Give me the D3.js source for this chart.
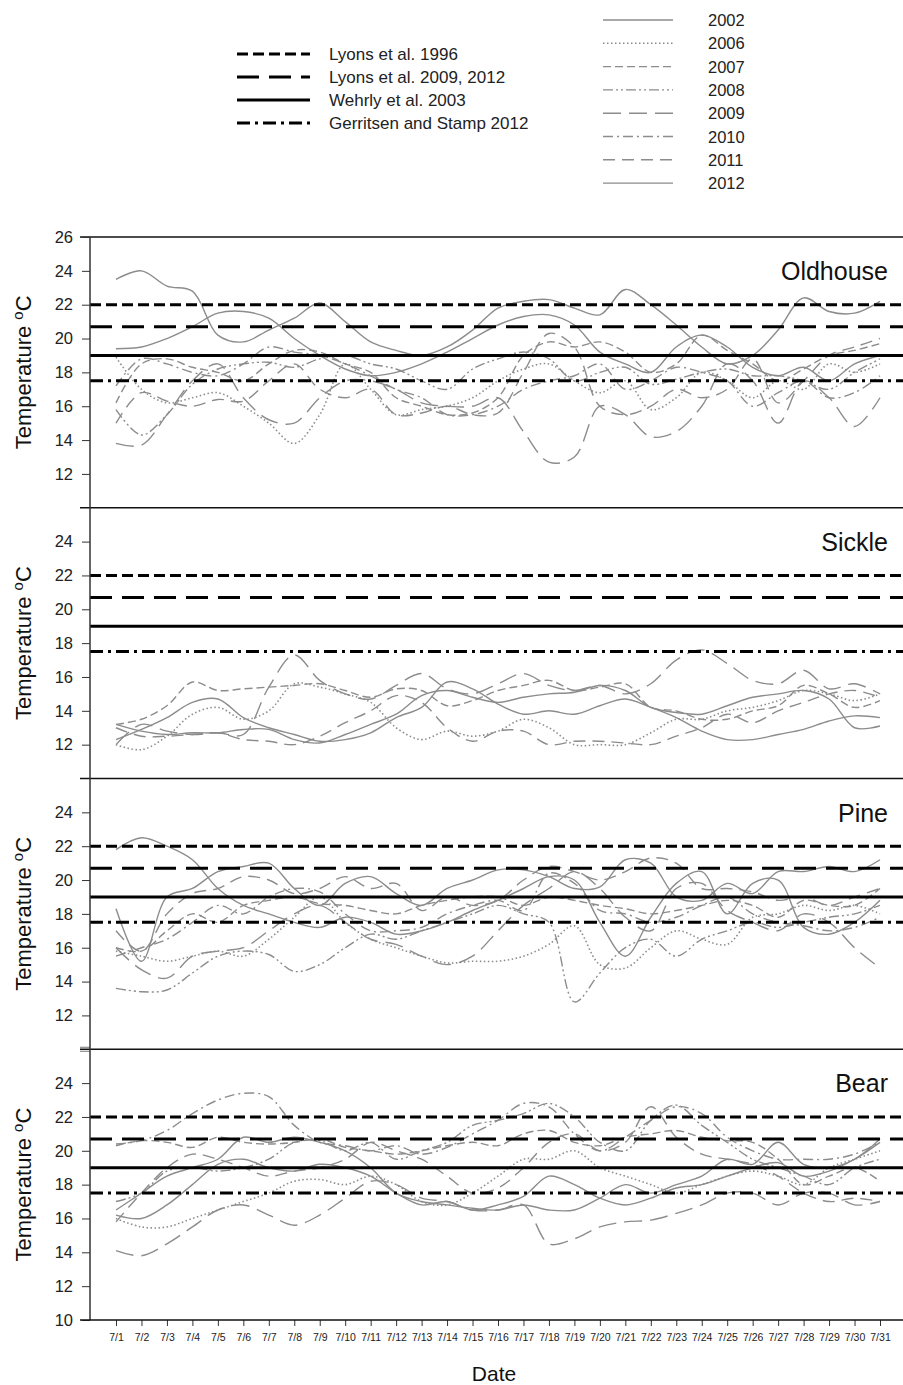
<!DOCTYPE html>
<html>
<head>
<meta charset="utf-8">
<script src="https://cdn.jsdelivr.net/npm/d3@7"></script>
<style>
  body { margin: 0; background: #fff; }
  svg { font-family: "Liberation Sans", Arial, sans-serif; }
</style>
</head>
<body>
<div id="chart"></div>
<script>
const W = 903, H = 1385;

// day-of-month labels on the x axis
const days = d3.range(1, 32);
const dayLabels = days.map(d => "7/" + d);

const sites = ["Oldhouse", "Sickle", "Pine", "Bear"];
const years = ["2002", "2006", "2007", "2008", "2009", "2010", "2011", "2012"];

// criteria lines (temperature, degC)
const criteria = ["Lyons et al. 1996", "Lyons et al. 2009, 2012", "Wehrly et al. 2003", "Gerritsen and Stamp 2012"];
const criteriaValues = [22, 20.7, 19, 17.5];

// daily temperature per site, per year
const oldhouse = {
  "2002": [23.5,24.0,23.1,22.8,20.2,19.8,20.5,21.2,22.1,21.0,19.8,19.3,19.0,19.5,20.5,21.8,22.2,22.3,21.8,21.4,22.9,22.0,20.8,19.5,18.5,19.0,20.5,22.4,21.6,21.5,22.2],
  "2006": [18.9,17.0,16.2,16.5,16.8,16.0,15.0,13.8,15.5,18.5,17.0,15.5,15.8,16.0,16.5,17.5,18.2,18.5,17.5,16.8,17.5,15.8,16.5,18.0,17.5,16.5,17.5,17.0,18.5,18.0,18.5],
  "2007": [16.2,18.5,18.8,18.3,18.0,17.5,18.5,19.3,19.2,18.5,18.0,16.5,16.0,15.5,15.6,16.5,19.0,19.8,19.5,19.8,19.2,18.0,18.5,20.2,19.3,18.5,17.5,18.2,19.0,19.3,19.7],
  "2008": [15.8,14.3,15.5,17.3,18.2,18.5,18.6,18.3,18.8,19.0,18.5,18.2,17.5,17.0,18.2,18.8,19.2,18.8,17.5,18.0,18.3,17.3,17.6,18.0,18.2,17.8,17.8,17.5,17.0,18.0,18.8],
  "2009": [13.8,13.7,15.5,17.5,18.5,16.5,15.2,15.0,16.5,17.5,17.5,17.0,16.2,16.0,16.0,16.5,14.5,12.7,13.0,16.0,15.5,14.2,14.5,16.0,18.5,17.5,15.0,17.5,16.5,14.8,16.5],
  "2010": [17.2,18.8,18.5,18.0,17.8,18.5,19.5,19.2,19.0,18.5,17.8,17.0,16.5,15.5,15.5,16.0,17.0,17.5,17.8,18.5,17.0,17.5,18.3,18.0,17.5,16.0,16.8,17.5,16.5,16.8,17.8],
  "2011": [15.0,16.8,16.3,16.0,16.4,16.3,17.5,18.5,17.0,16.5,17.0,15.5,15.6,16.0,15.5,15.6,18.0,20.3,19.5,16.0,15.5,16.0,17.0,16.5,17.0,18.8,16.2,17.5,19.0,19.5,20.0],
  "2012": [19.4,19.5,20.0,20.7,21.5,21.6,21.2,20.0,19.0,18.2,17.8,18.0,18.5,19.2,20.0,20.8,21.3,21.4,20.8,19.2,18.5,18.0,19.5,20.2,19.5,18.3,17.8,18.3,17.5,18.5,19.0]
};
const sickle = {
  "2002": [12.3,12.9,13.6,14.5,14.7,13.6,13.0,12.6,12.2,12.3,12.7,13.6,14.2,15.7,15.3,14.4,13.8,14.0,13.8,14.3,14.7,14.2,13.6,12.8,12.3,12.3,12.6,12.9,13.4,13.7,13.6],
  "2006": [12.0,11.7,12.5,13.8,14.2,13.5,14.0,15.6,15.4,15.0,14.5,13.0,12.3,12.8,12.5,12.8,13.5,13.0,12.0,12.0,12.0,12.7,13.5,13.5,14.0,14.2,14.6,15.2,15.0,14.6,15.0],
  "2007": [13.2,13.5,14.3,15.7,15.2,15.3,15.4,15.5,15.6,15.2,14.8,15.3,15.2,14.3,14.6,15.2,15.5,15.8,15.2,15.4,15.6,14.2,14.0,13.5,13.5,14.0,14.3,15.5,15.0,14.2,14.6],
  "2009": [12.0,13.2,12.8,12.6,12.7,12.6,15.4,17.3,15.8,15.0,14.7,15.5,16.2,15.3,15.0,15.6,16.2,15.5,15.2,15.5,15.0,15.6,17.0,17.6,16.8,15.8,15.6,16.4,15.3,15.6,15.0],
  "2011": [13.0,12.5,12.5,12.6,12.7,12.3,12.2,12.0,12.5,13.3,14.0,14.9,14.5,13.0,12.2,12.8,12.8,12.0,12.2,12.2,12.1,12.0,12.5,13.0,13.8,13.3,14.0,14.5,15.0,15.2,14.8],
  "2012": [13.2,12.8,12.6,12.7,12.7,12.9,12.9,12.3,12.1,12.6,13.2,13.8,14.9,15.2,14.8,14.5,14.8,15.0,15.1,15.5,15.2,14.2,13.9,13.8,14.3,14.8,15.0,15.2,14.7,13.0,13.1]
};
const pine = {
  "2002": [21.8,22.5,22.0,21.2,19.5,18.5,18.0,17.5,17.2,17.8,17.5,16.8,17.0,17.5,18.2,18.8,19.5,20.2,20.0,17.5,15.5,17.8,19.8,20.5,18.0,19.8,20.0,17.2,16.8,17.5,18.8],
  "2006": [15.8,15.5,15.2,15.5,15.8,15.5,16.5,17.8,19.0,17.5,16.5,16.0,15.5,15.1,15.2,15.2,15.5,16.2,17.3,15.0,14.8,16.0,17.0,16.5,16.2,17.8,18.0,18.5,18.2,18.5,18.0],
  "2007": [16.0,15.8,17.0,18.0,17.5,18.5,18.8,19.0,18.6,18.5,18.2,18.0,18.5,18.8,19.0,19.0,18.5,19.0,18.8,18.5,18.3,18.0,18.2,18.5,18.8,18.5,17.8,18.8,18.5,18.5,19.5],
  "2008": [13.6,13.4,13.5,14.5,15.5,15.8,15.6,14.6,15.0,16.0,16.8,16.5,17.0,17.5,18.0,18.5,18.0,17.5,12.8,14.5,16.0,16.5,15.5,16.5,17.0,17.5,17.2,17.5,17.8,18.0,18.5],
  "2009": [16.0,14.7,14.2,15.5,15.8,16.0,17.0,18.0,18.5,17.5,16.5,16.2,15.5,15.0,15.5,17.0,18.5,19.5,20.5,19.5,17.8,17.0,19.5,19.8,18.2,17.5,17.0,18.0,17.5,16.0,14.8],
  "2010": [15.5,16.0,16.5,17.5,18.5,18.0,19.0,19.5,19.3,18.0,17.0,17.0,17.2,18.0,18.5,18.8,18.2,20.4,19.8,18.2,18.0,17.5,17.8,18.5,19.0,18.0,17.5,17.3,17.0,17.2,17.8],
  "2011": [17.0,15.8,18.0,19.2,19.5,20.2,20.0,19.2,19.5,20.2,19.5,19.8,18.2,19.0,18.5,18.8,20.0,20.8,20.5,20.0,20.5,21.3,21.0,19.5,19.5,19.3,18.8,19.0,18.5,19.0,19.5],
  "2012": [18.3,15.2,19.0,19.5,20.5,20.8,21.0,19.5,18.5,19.8,20.2,19.2,18.5,19.5,20.0,20.6,20.6,20.2,19.5,19.6,21.2,21.0,19.0,18.8,19.8,19.2,20.5,20.5,20.8,20.5,21.2]
};
const bear = {
  "2002": [16.2,16.0,16.8,18.0,19.2,19.5,19.0,18.8,19.2,19.0,18.5,17.5,16.8,17.0,16.5,16.8,17.3,18.5,18.0,17.2,16.8,17.2,17.8,18.0,18.5,19.0,19.3,18.5,18.8,19.5,20.5],
  "2006": [16.0,15.5,15.5,16.0,16.5,17.0,17.5,18.2,18.3,18.0,18.5,18.0,17.0,16.8,17.5,18.5,19.5,19.5,20.0,19.0,18.5,18.0,17.5,18.0,18.5,18.8,18.5,18.0,19.0,19.5,20.0],
  "2007": [20.3,20.6,20.5,20.2,20.8,20.5,20.4,20.5,20.7,20.2,20.0,19.8,20.0,20.3,20.5,20.3,21.0,21.2,20.5,20.3,20.8,21.0,21.2,20.8,20.6,20.5,19.5,18.0,18.5,19.0,18.2],
  "2008": [17.0,17.5,18.8,19.0,18.8,19.0,19.5,20.5,20.6,20.0,20.5,19.5,20.0,20.5,21.5,21.8,22.2,22.8,22.0,20.5,20.0,21.8,22.7,21.5,20.5,19.5,19.0,18.5,18.0,19.0,19.5],
  "2009": [14.1,13.8,14.5,15.5,16.5,16.8,16.2,15.6,16.2,17.2,18.2,18.0,17.2,17.0,16.5,16.5,16.8,14.5,14.8,15.5,15.8,15.9,16.3,16.8,17.5,17.5,16.8,17.5,17.5,16.8,17.0],
  "2010": [20.4,20.6,21.2,22.2,23.0,23.4,23.2,21.5,20.5,20.3,20.0,20.3,19.8,20.2,21.0,21.8,22.8,22.6,21.0,20.0,20.8,21.8,22.6,22.2,20.8,20.0,19.5,19.5,19.5,19.8,20.5],
  "2011": [15.8,17.5,19.0,19.8,19.5,19.0,18.5,18.8,19.0,19.5,20.5,20.0,19.5,18.5,17.5,17.8,19.0,20.5,21.0,20.0,20.5,22.6,20.8,19.8,19.5,19.2,18.5,17.5,17.0,17.2,17.0],
  "2012": [16.5,17.5,18.5,19.0,19.5,20.8,20.5,20.8,20.5,20.0,19.0,17.5,17.0,16.8,16.6,16.5,16.8,16.5,16.5,17.2,18.0,17.5,18.0,18.5,19.5,19.2,20.5,19.2,19.0,19.5,20.7]
};
const siteData = [oldhouse, sickle, pine, bear];

// line styles
const yearDash = {
  "2002": null, "2006": "1.5,2.5", "2007": "8,4", "2008": "10,3,2,3,2,3",
  "2009": "18,8", "2010": "10,4,2,4", "2011": "12,7", "2012": null
};
const critDash = ["11,5", "22,10", null, "13,5,3,5"];
const grey = "#8c8c8c";

const svg = d3.select("#chart").append("svg")
  .attr("width", W).attr("height", H);

const left = 90, right = 903;
const top0 = 237, bottom = 1320;
const panelH = (bottom - top0) / 4;

const x = d3.scalePoint()
  .domain(dayLabels)
  .range([116, 880]);

const line = d3.line()
  .curve(d3.curveCatmullRom.alpha(0.5));

sites.forEach(function(site, i) {
  const pTop = top0 + i * panelH;
  const y = d3.scaleLinear().domain([10, 26]).range([pTop + panelH, pTop]);
  const g = svg.append("g");

  // panel top border
  g.append("line")
    .attr("x1", 80).attr("x2", right)
    .attr("y1", pTop).attr("y2", pTop)
    .attr("stroke", "#111").attr("stroke-width", 1.6);

  // y axis
  let tickVals = [12, 14, 16, 18, 20, 22, 24];
  if (i == 0) tickVals = tickVals.concat([26]);
  if (i == 3) tickVals = [10].concat(tickVals);
  const yAxis = g.append("g")
    .attr("transform", `translate(${left},0)`)
    .call(d3.axisLeft(y).tickValues(tickVals).tickSize(8).tickPadding(9).tickFormat(d3.format("d")));
  yAxis.select(".domain").remove();
  yAxis.selectAll("line").attr("stroke", "#333");
  yAxis.selectAll("text").attr("font-size", 16.5).attr("fill", "#222");

  // series
  const data = siteData[i];
  Object.keys(data).forEach(function(yr) {
    const pts = data[yr].map((v, k) => [x(dayLabels[k]), y(v)]);
    g.append("path")
      .attr("d", line(pts))
      .attr("fill", "none")
      .attr("stroke", grey)
      .attr("stroke-width", yr == "2006" ? 1.6 : 1.4)
      .attr("stroke-dasharray", yearDash[yr]);
  });

  // criteria lines
  criteriaValues.forEach(function(v, k) {
    g.append("line")
      .attr("x1", left).attr("x2", right)
      .attr("y1", y(v)).attr("y2", y(v))
      .attr("stroke", "#000")
      .attr("stroke-width", 3)
      .attr("stroke-dasharray", critDash[k]);
  });

  // site name
  g.append("text")
    .attr("x", 888).attr("y", pTop + 43)
    .attr("text-anchor", "end")
    .attr("font-size", 25)
    .attr("fill", "#111")
    .text(site);

  // y label
  const lab = g.append("text")
    .attr("transform", `translate(31,${pTop + panelH / 2}) rotate(-90)`)
    .attr("text-anchor", "middle")
    .attr("font-size", 22)
    .attr("fill", "#111");
  lab.append("tspan").text("Temperature ");
  lab.append("tspan").attr("dy", -8).attr("font-size", 15).text("o");
  lab.append("tspan").attr("dy", 8).text("C");
});

// axis break mark between Pine and Bear
[-2, 2].forEach(function(o) {
  svg.append("line")
    .attr("x1", 80).attr("x2", left)
    .attr("y1", top0 + 3 * panelH + o).attr("y2", top0 + 3 * panelH + o)
    .attr("stroke", "#777").attr("stroke-width", 1);
});

// left axis line
svg.append("line")
  .attr("x1", left).attr("x2", left)
  .attr("y1", top0).attr("y2", bottom)
  .attr("stroke", "#333").attr("stroke-width", 1.5);

// x axis
const xAxis = svg.append("g")
  .attr("transform", `translate(0,${bottom})`)
  .call(d3.axisBottom(x).tickSize(6).tickPadding(8));
xAxis.select(".domain").remove();
xAxis.selectAll("line").attr("stroke", "#333");
xAxis.selectAll("text").attr("font-size", 10.5).attr("fill", "#222");
svg.append("line")
  .attr("x1", 80).attr("x2", right)
  .attr("y1", bottom).attr("y2", bottom)
  .attr("stroke", "#111").attr("stroke-width", 1.6);

svg.append("text")
  .attr("x", 494).attr("y", 1381)
  .attr("text-anchor", "middle")
  .attr("font-size", 21).attr("fill", "#111")
  .text("Date");

// legend: criteria
const leg1 = svg.append("g");
criteria.forEach(function(c, k) {
  const yy = 54 + k * 23;
  leg1.append("line")
    .attr("x1", 237).attr("x2", 310).attr("y1", yy).attr("y2", yy)
    .attr("stroke", "#000").attr("stroke-width", 3)
    .attr("stroke-dasharray", critDash[k]);
  leg1.append("text")
    .attr("x", 329).attr("y", yy + 6)
    .attr("font-size", 17).attr("fill", "#222")
    .text(c);
});

// legend: years
const leg2 = svg.append("g");
years.forEach(function(yr, k) {
  const yy = 20 + k * 23.3;
  leg2.append("line")
    .attr("x1", 603).attr("x2", 673).attr("y1", yy).attr("y2", yy)
    .attr("stroke", grey).attr("stroke-width", 1.4)
    .attr("stroke-dasharray", yearDash[yr]);
  leg2.append("text")
    .attr("x", 708).attr("y", yy + 6)
    .attr("font-size", 16.5).attr("fill", "#222")
    .text(yr);
});
</script>
</body>
</html>
